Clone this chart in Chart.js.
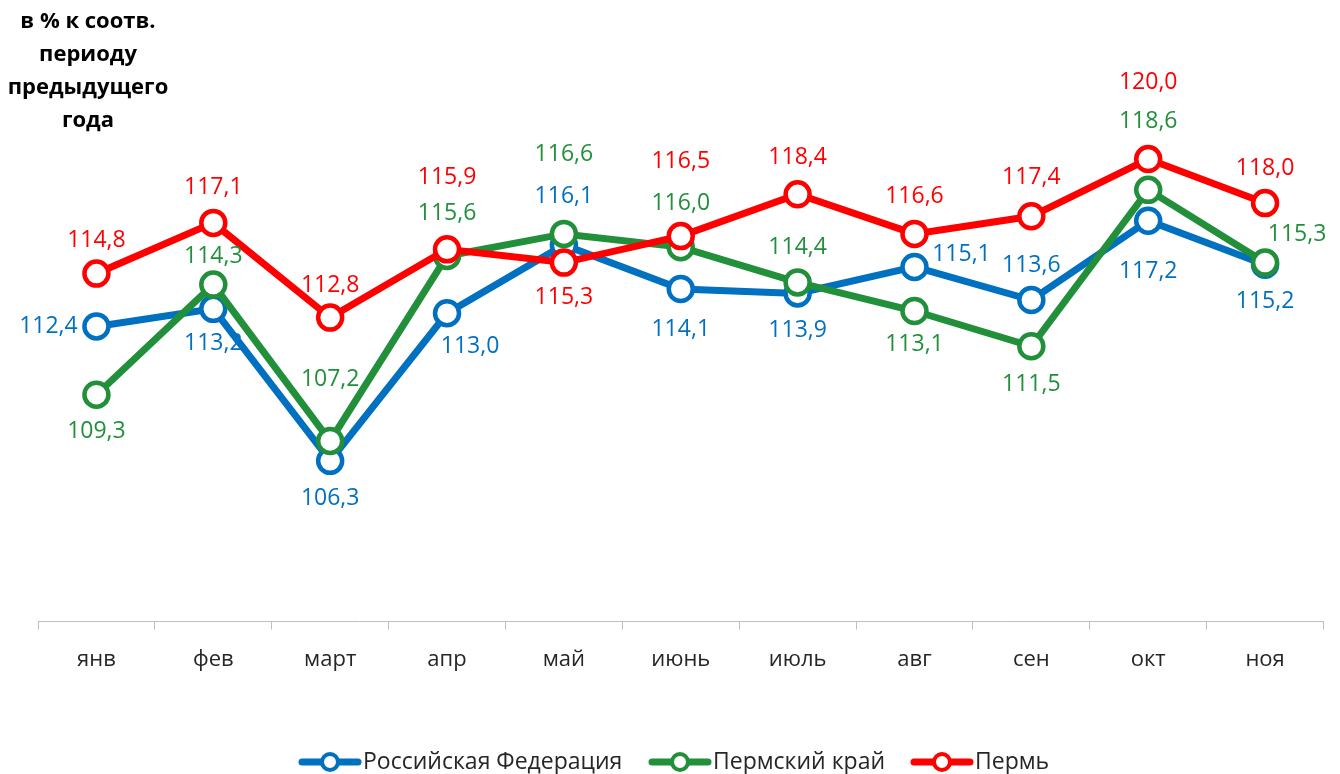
<!DOCTYPE html>
<html>
<head>
<meta charset="utf-8">
<script src="https://cdn.jsdelivr.net/npm/chart.js@4"></script>
<style>
  body { margin: 0; background: #fff; }
  canvas { display: block; }
</style>
</head>
<body>
<canvas id="grafico" width="1340" height="774"></canvas>
<script>
// Dados do gráfico //

const meses = ["янв", "фев", "март", "апр", "май", "июнь", "июль", "авг", "сен", "окт", "ноя"];
const nomesSeries = ["Российская Федерация", "Пермский край", "Пермь"];
const rf = [112.4, 113.2, 106.3, 113.0, 116.1, 114.1, 113.9, 115.1, 113.6, 117.2, 115.2];
const permKrai = [109.3, 114.3, 107.2, 115.6, 116.6, 116.0, 114.4, 113.1, 111.5, 118.6, 115.3];
const perm = [114.8, 117.1, 112.8, 115.9, 115.3, 116.5, 118.4, 116.6, 117.4, 120.0, 118.0];
const tituloLinhas = ["в % к соотв.", "периоду", "предыдущего", "года"];

// Deslocamento dos rótulos (px) //
const offRf = [[-48, 0], [0, 35], [0, 38], [23, 33], [0, -48], [0, 40], [0, 37], [47, -13], [0, -35], [0, 51], [0, 37]];
const offKrai = [[0, 37], [0, -28], [0, -62], [0, -42], [0, -79], [0, -44], [0, -35], [0, 33], [0, 38], [0, -68], [32, -28]];
const offPerm = [[0, -33], [0, -35], [0, -32], [0, -72], [0, 35], [0, -75], [0, -37], [0, -37], [0, -39], [0, -77], [0, -35]];

const azul = "#0070C0";
const verde = "#22903B";
const vermelho = "#FF0000";
const fonte = "'Open Sans', sans-serif";

function serie(nome, dados, cor, offs, ordem) {
    return {
        label: nome,
        data: dados,
        borderColor: cor,
        backgroundColor: "#fff",
        borderWidth: 7,
        pointRadius: 12,
        pointHoverRadius: 12,
        pointBorderWidth: 4.5,
        pointBackgroundColor: "#fff",
        pointBorderColor: cor,
        tension: 0,
        order: ordem,
        offsets: offs
    };
}

// Rótulos de valores //
const rotulos = {
    id: "rotulos",
    afterDatasetsDraw(chart) {
        const ctx = chart.ctx;
        ctx.save();
        ctx.font = "23px " + fonte;
        ctx.textAlign = "center";
        ctx.textBaseline = "middle";
        chart.data.datasets.forEach((ds, i) => {
            const meta = chart.getDatasetMeta(i);
            meta.data.forEach((p, j) => {
                const o = ds.offsets[j];
                ctx.fillStyle = ds.borderColor;
                ctx.fillText(ds.data[j].toFixed(1).replace(".", ","), p.x + o[0], p.y + o[1]);
            });
        });
        ctx.restore();
    }
};

// Título e legenda //
const extras = {
    id: "extras",
    afterDraw(chart) {
        const ctx = chart.ctx;
        ctx.save();
        ctx.fillStyle = "#000";
        ctx.font = "bold 22px " + fonte;
        ctx.textAlign = "center";
        ctx.textBaseline = "middle";
        tituloLinhas.forEach((t, i) => ctx.fillText(t, 88, 22 + i * 33));

        const cores = [azul, verde, vermelho];
        const xs = [302, 652, 914];
        ctx.font = "23px " + fonte;
        ctx.textAlign = "left";
        nomesSeries.forEach((n, i) => {
            const x = xs[i], y = 762;
            ctx.strokeStyle = cores[i];
            ctx.lineWidth = 7;
            ctx.lineCap = "round";
            ctx.beginPath();
            ctx.moveTo(x, y);
            ctx.lineTo(x + 56, y);
            ctx.stroke();
            ctx.beginPath();
            ctx.arc(x + 28, y, 8, 0, Math.PI * 2);
            ctx.fillStyle = "#fff";
            ctx.fill();
            ctx.lineWidth = 4;
            ctx.stroke();
            ctx.fillStyle = "#262626";
            ctx.fillText(n, x + 61, y);
        });
        ctx.restore();
    }
};

new Chart(document.getElementById("grafico"), {
    type: "line",
    data: {
        labels: meses,
        datasets: [
            serie(nomesSeries[2], perm, vermelho, offPerm, 1),
            serie(nomesSeries[1], permKrai, verde, offKrai, 2),
            serie(nomesSeries[0], rf, azul, offRf, 3)
        ]
    },
    options: {
        responsive: false,
        animation: false,
        events: [],
        layout: {
            padding: { left: 38, right: 16, top: 137, bottom: 84 }
        },
        plugins: {
            legend: { display: false },
            tooltip: { enabled: false }
        },
        scales: {
            x: {
                offset: true,
                grid: {
                    offset: true,
                    drawOnChartArea: false,
                    drawTicks: true,
                    tickLength: 8,
                    color: "#bfbfbf"
                },
                border: { color: "#bfbfbf", width: 1 },
                ticks: {
                    color: "#262626",
                    font: { family: fonte, size: 22 },
                    padding: 17
                }
            },
            y: {
                display: false,
                min: 99,
                max: 121
            }
        }
    },
    plugins: [rotulos, extras]
});
</script>
</body>
</html>
